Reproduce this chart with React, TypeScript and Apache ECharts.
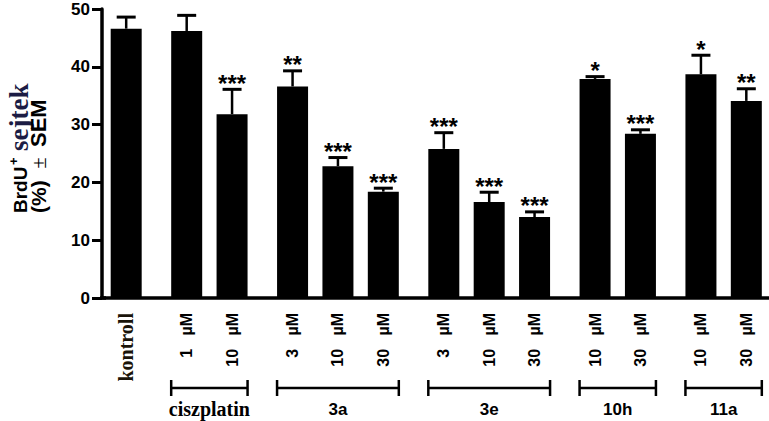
import React, { useEffect, useRef } from 'react';
import * as echarts from 'echarts';

// ---- data ----
const groupNames = ['', 'ciszplatin', '3a', '3e', '10h', '11a'];
const groupDoses = [['kontroll'], ['1', '10'], ['3', '10', '30'], ['3', '10', '30'], ['10', '30'], ['10', '30']];
const means = [46.6, 46.2, 31.8, 36.6, 22.8, 18.4, 25.8, 16.6, 14.0, 37.9, 28.4, 38.7, 34.1];
const sems = [2.0, 2.7, 4.3, 2.7, 1.5, 0.6, 2.8, 1.7, 0.9, 0.4, 0.7, 3.3, 2.1];
const stars = ['', '', '***', '**', '***', '***', '***', '***', '***', '*', '***', '*', '**'];
const yTickStep = 10;
const yMax = 50;

const SANS = '"Liberation Sans", Arial, sans-serif';
const SERIF = '"Liberation Serif", "Times New Roman", serif';
const NB = '\u00A0';

// build category slots (bars with spacer slots between them)
const slots: string[] = [];
const slotLabel: Record<string, string> = {};
const barSlot: number[] = [];
const groupRange: number[][] = [];
slots.push('gap-start');
let gapN = 0;
groupDoses.forEach((doses, gi) => {
  if (gi > 0) for (let k = 0; k < 3; k++) slots.push('gap' + gapN++);
  const first = slots.length;
  doses.forEach((d, di) => {
    if (di > 0) for (let k = 0; k < 2; k++) slots.push('gap' + gapN++);
    const key = 'bar' + barSlot.length;
    slotLabel[key] = d === 'kontroll' ? '{k|kontroll}' : `{s|${d}${NB}${NB}${NB}µM}`;
    barSlot.push(slots.length);
    slots.push(key);
  });
  groupRange.push([first, slots.length - 1, gi]);
});
slots.push('gap-end');
const isBar = (i: number) => !!slots[i] && slots[i].startsWith('bar');

const rotText = (text: string, x: number, y: number, align: string, size: number, family: string, weight: string, fill = '#000') => ({
  type: 'text', x, y, rotation: Math.PI / 2,
  style: { text, align, verticalAlign: 'middle', fontFamily: family, fontWeight: weight, fontSize: size, fill },
});

export default function App() {
  const ref = useRef<HTMLDivElement>(null);
  useEffect(() => {
    document.body.style.margin = '0';
    const chart = echarts.init(ref.current!, null, { renderer: 'svg' });
    const barWidth = 31;
    chart.setOption({
      animation: false,
      grid: { left: 103.5, right: 0, top: 9, bottom: 123 },
      xAxis: {
        type: 'category',
        data: slots,
        axisLine: { lineStyle: { color: '#000', width: 3.5 } },
        axisTick: {
          alignWithLabel: true,
          interval: (i: number) => isBar(i),
          length: 9,
          lineStyle: { color: '#000', width: 3 },
        },
        axisLabel: {
          interval: (i: number) => isBar(i),
          rotate: 90,
          margin: 15,
          formatter: (v: string) => slotLabel[v] || '',
          rich: {
            k: { fontFamily: SERIF, fontWeight: 'bold', fontSize: 20, color: '#1a140a' },
            s: { fontFamily: SANS, fontWeight: 'bold', fontSize: 16, color: '#000' },
          },
        },
      },
      yAxis: {
        type: 'value',
        min: 0,
        max: yMax,
        interval: yTickStep,
        offset: 1.5,
        splitLine: { show: false },
        axisLine: { show: true, lineStyle: { color: '#000', width: 3.5 } },
        axisTick: { show: true, length: 10, lineStyle: { color: '#000', width: 3 } },
        axisLabel: { fontFamily: SANS, fontWeight: 'bold', fontSize: 17, color: '#000', margin: 12 },
      },
      graphic: [
        { type: 'line', shape: { x1: 100, y1: 298, x2: 106, y2: 298 }, style: { stroke: '#000', lineWidth: 3.5 } },
        rotText('BrdU', 20, 213, 'left', 19, SANS, 'bold'),
        rotText('+', 13, 165, 'left', 13, SANS, 'bold'),
        rotText('sejtek', 18.5, 151, 'left', 27, SERIF, 'bold', '#1c1c44'),
        rotText('(%)', 38.5, 213, 'left', 21, SANS, 'bold'),
        rotText('±', 38.5, 163, 'center', 20, SERIF, 'normal'),
        rotText('SEM', 38.5, 147, 'left', 22, SANS, 'bold'),
      ],
      series: [
        {
          type: 'bar',
          barWidth,
          itemStyle: { color: '#000' },
          data: means.map((m, i) => [barSlot[i], m]),
          z: 2,
        },
        {
          type: 'custom',
          clip: false,
          z: 3,
          data: means.map((m, i) => [barSlot[i], m, sems[i]]),
          encode: { x: 0, y: 1 },
          renderItem: (params: any, api: any) => {
            const x = api.value(0), m = api.value(1), s = api.value(2);
            const base = api.coord([x, m]);
            const top = api.coord([x, m + s]);
            const st = stars[params.dataIndex];
            const children: any[] = [
              { type: 'line', shape: { x1: base[0], y1: base[1], x2: top[0], y2: top[1] }, style: { stroke: '#000', lineWidth: 2.5 } },
              { type: 'line', shape: { x1: top[0] - 9.5, y1: top[1], x2: top[0] + 9.5, y2: top[1] }, style: { stroke: '#000', lineWidth: 3 } },
            ];
            if (st) {
              children.push({
                type: 'text',
                style: {
                  text: st, x: top[0], y: top[1] - 6, align: 'center', verticalAlign: 'middle',
                  fontFamily: SANS, fontWeight: 'bold', fontSize: 24, fill: '#000',
                },
              });
            }
            return { type: 'group', children };
          },
        },
        {
          type: 'custom',
          clip: false,
          z: 3,
          data: groupRange.filter((g) => groupNames[g[2]] !== ''),
          encode: { x: 0 },
          renderItem: (params: any, api: any) => {
            const a = api.coord([api.value(0), 0]);
            const b = api.coord([api.value(1), 0]);
            const name = groupNames[api.value(2)];
            const x1 = a[0] - barWidth / 2, x2 = b[0] + barWidth / 2;
            const y = a[1] + 90;
            return {
              type: 'group',
              children: [
                { type: 'line', shape: { x1, y1: y, x2, y2: y }, style: { stroke: '#000', lineWidth: 2.5 } },
                { type: 'line', shape: { x1, y1: y - 8, x2: x1, y2: y + 8 }, style: { stroke: '#000', lineWidth: 2.5 } },
                { type: 'line', shape: { x1: x2, y1: y - 8, x2, y2: y + 8 }, style: { stroke: '#000', lineWidth: 2.5 } },
                {
                  type: 'text',
                  style: {
                    text: name, x: (x1 + x2) / 2, y: y + 21, align: 'center', verticalAlign: 'middle',
                    fontFamily: name === 'ciszplatin' ? SERIF : SANS,
                    fontWeight: 'bold', fontSize: name === 'ciszplatin' ? 20 : 17, fill: '#000',
                  },
                },
              ],
            };
          },
        },
      ],
    });
    return () => chart.dispose();
  }, []);
  return <div ref={ref} style={{ width: 769, height: 421 }} />;
}
